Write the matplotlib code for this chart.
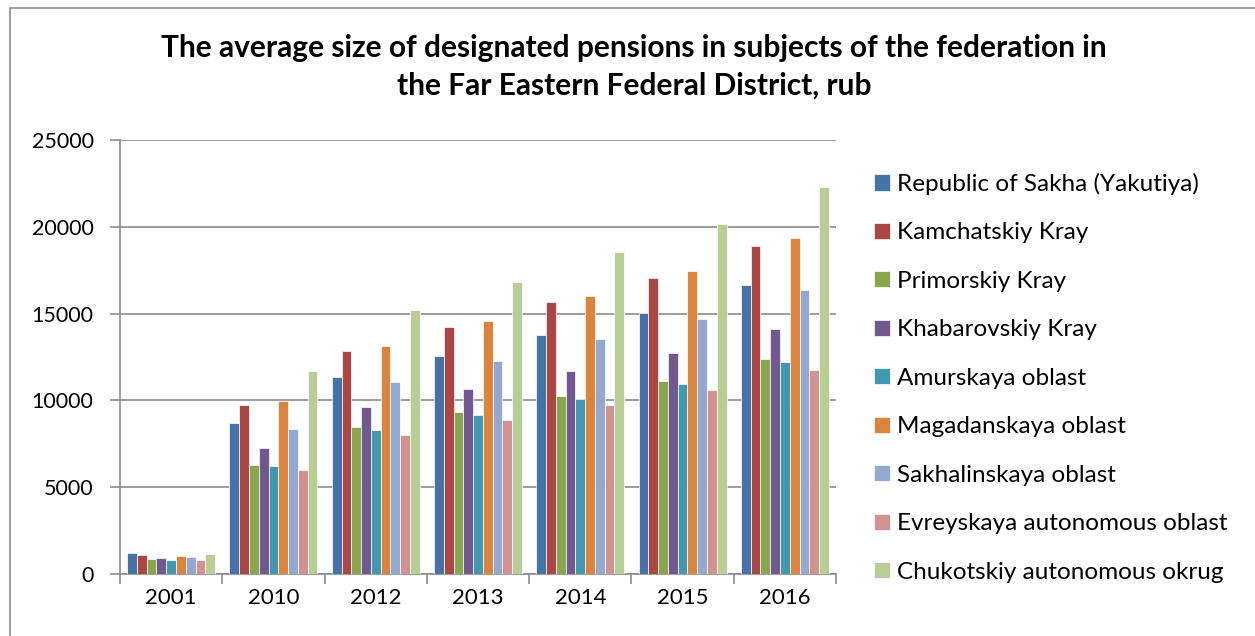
import numpy as np
import matplotlib
matplotlib.use("Agg")
import matplotlib.pyplot as plt
from matplotlib.patches import Rectangle

plt.rcParams['font.family'] = ['Lato', 'DejaVu Sans']

years = ['2001', '2010', '2012', '2013', '2014', '2015', '2016']

regions = [
    'Republic of Sakha (Yakutiya)',
    'Kamchatskiy Kray',
    'Primorskiy Kray',
    'Khabarovskiy Kray',
    'Amurskaya oblast',
    'Magadanskaya oblast',
    'Sakhalinskaya oblast',
    'Evreyskaya autonomous oblast',
    'Chukotskiy autonomous okrug',
]

sakha = [1210, 8700, 11330, 12540, 13770, 15030, 16650]
kamchatka = [1090, 9720, 12850, 14250, 15670, 17030, 18880]
primorye = [850, 6260, 8450, 9330, 10230, 11120, 12370]
khabarovsk = [900, 7260, 9620, 10680, 11710, 12710, 14130]
amur = [830, 6220, 8280, 9160, 10060, 10950, 12190]
magadan = [1040, 9950, 13150, 14560, 16010, 17450, 19360]
sakhalin = [1000, 8350, 11060, 12270, 13520, 14690, 16340]
evrey = [790, 5970, 8010, 8850, 9740, 10580, 11770]
chukotka = [1170, 11680, 15210, 16840, 18570, 20140, 22280]

series = [sakha, kamchatka, primorye, khabarovsk, amur, magadan, sakhalin, evrey, chukotka]
colors = ['#4572A7', '#AA4643', '#89A54E', '#71588F', '#4198AF',
          '#DB843D', '#93A9CF', '#D19392', '#B9CD96']

fig = plt.figure(figsize=(12.55, 6.36), dpi=100)
ax = fig.add_axes([120 / 1255, 1 - 574 / 636, 716 / 1255, 434 / 636])

x = np.arange(len(years))
n = len(series)
group_w = 0.86
w = group_w / n
for i, (vals, c) in enumerate(zip(series, colors)):
    ax.bar(x - group_w / 2 + w * (i + 0.5), vals, width=w, color=c,
           edgecolor='white', linewidth=0.5, label=regions[i], zorder=3)

ax.set_xlim(-0.5, len(years) - 0.5)
ax.set_ylim(0, 25000)
ax.set_yticks(range(0, 25001, 5000))
ax.yaxis.grid(True, color='#8c8c8c', linewidth=1.2, zorder=0)
ax.set_axisbelow(True)

ax.set_xticks(x)
ax.set_xticklabels(years, fontsize=16)
ax.set_xticks(np.arange(-0.5, len(years)), minor=True)
ax.tick_params(axis='x', which='major', length=0, pad=10)
ax.tick_params(axis='x', which='minor', length=7, color='#8c8c8c', width=1.2)
ax.tick_params(axis='y', length=7, color='#8c8c8c', width=1.2, labelsize=15.5, pad=12)

for s in ['top', 'right']:
    ax.spines[s].set_visible(False)
for s in ['left', 'bottom']:
    ax.spines[s].set_color('#8c8c8c')
    ax.spines[s].set_linewidth(1.2)

fig.text(634 / 1255, 1 - 48 / 636,
         'The average size of designated pensions in subjects of the federation in',
         ha='center', va='center', fontsize=21.5, fontweight='bold')
fig.text(634 / 1255, 1 - 86 / 636, 'the Far Eastern Federal District, rub',
         ha='center', va='center', fontsize=21.5, fontweight='bold')

handles, labels = ax.get_legend_handles_labels()
fig.legend(handles, labels, loc='upper left', bbox_to_anchor=(852 / 1255, 1 - 151 / 636),
           frameon=False, fontsize=17.5, handlelength=0.65, handleheight=0.65,
           handletextpad=0.3, labelspacing=1.13)

fig.patches.append(Rectangle((10 / 1255, -0.1), 1.2, 1 - 8 / 636 + 0.1,
                             transform=fig.transFigure, fill=False,
                             edgecolor='#8c8c8c', linewidth=1.2))

fig.savefig('out.png', dpi=100)
